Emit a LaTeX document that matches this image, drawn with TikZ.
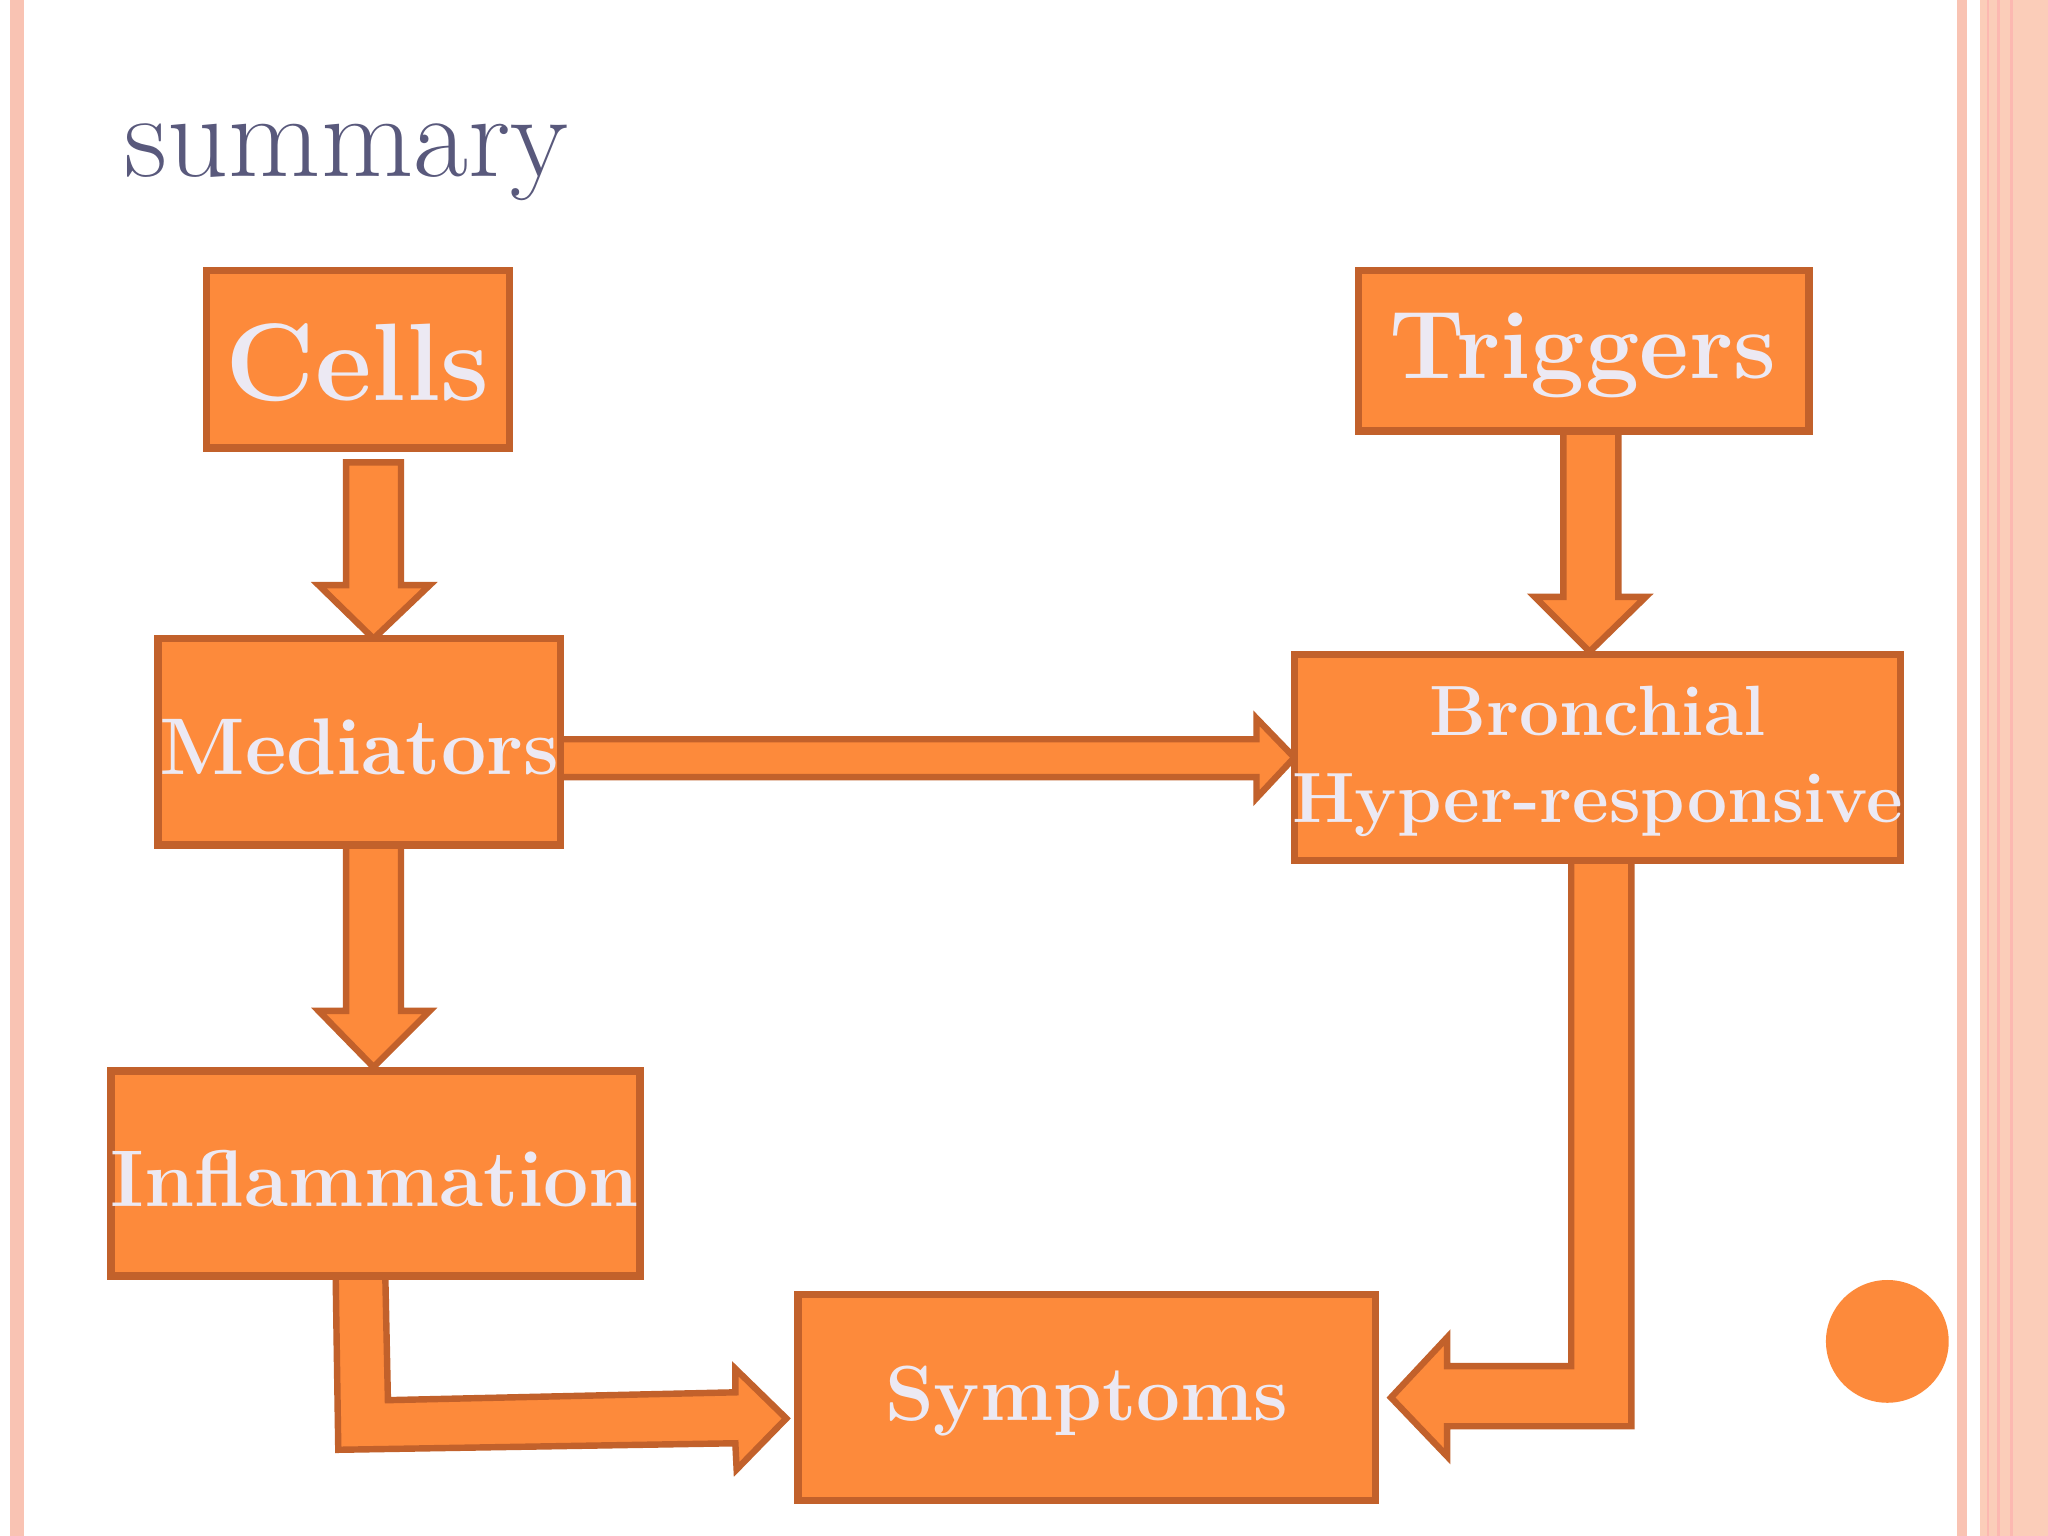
\documentclass[tikz,border=0pt]{standalone}
\begin{document}
\begin{tikzpicture}[x=0.01cm,y=-0.01cm,
 box/.style={draw=boxline,line width=1.6pt,fill=boxfill},
 lab/.style={text=labcol,font=\bfseries},
 blk/.style={draw=boxline,line width=1.4pt,fill=boxfill,line join=miter}]
\definecolor{boxfill}{HTML}{FD8A3B}
\definecolor{boxline}{HTML}{C2612B}
\definecolor{labcol}{HTML}{ECE9F3}
\definecolor{pinkl}{HTML}{F9C3B3}
\definecolor{peach}{HTML}{FBCDB9}
\useasboundingbox (0,0) rectangle (1568,1176);
\fill[white] (0,0) rectangle (1568,1176);
\fill[pinkl] (8,0) rectangle (18,1176);
\fill[pinkl] (1498,0) rectangle (1506,1176);
\fill[peach] (1516,0) rectangle (1568,1176);
\foreach \x in {1522,1530,1540}{\draw[pinkl!70!red!60,line width=0.6pt] (\x,0)--(\x,1176);}
\node[anchor=base west,text=black!55!blue!30!gray,font=\fontsize{26}{30}\selectfont,inner sep=0] (title) at (95,135) {summary};
% arrows
\draw[blk] (265,354)--(307,354)--(307,448)--(329,448)--(286,489)--(244,448)--(265,448)--cycle;
\draw[blk] (1197,330)--(1239,330)--(1239,457)--(1260,457)--(1217,499)--(1175,457)--(1197,457)--cycle;
\draw[blk] (265,647)--(307,647)--(307,774)--(329,774)--(286,817)--(244,774)--(265,774)--cycle;
\draw[blk] (429,566)--(962,566)--(962,550)--(991,580)--(962,611)--(962,595)--(429,595)--cycle;
\draw[blk] (257,977)--(295,977)--(297,1072)--(563,1066)--(563,1048)--(602,1086)--(564,1125)--(563,1105)--(259,1110)--cycle;
\draw[blk] (1203,659)--(1249,659)--(1249,1092)--(1108,1092)--(1108,1115)--(1065,1070)--(1108,1024)--(1108,1046)--(1203,1046)--cycle;
% boxes
\draw[box] (158,207) rectangle (390,343);
\node[lab,font=\bfseries\fontsize{24}{28}\selectfont] (cells) at (274,278) {Cells};
\draw[box] (1040,207) rectangle (1385,330);
\node[lab,font=\bfseries\fontsize{21}{25}\selectfont] (trig) at (1212,272) {Triggers};
\draw[box] (121,489) rectangle (429,647);
\node[lab,font=\bfseries\fontsize{17.5}{21}\selectfont] (med) at (275,572) {Mediators};
\draw[box] (991,501) rectangle (1455,659);
\node[lab,font=\bfseries\fontsize{15.5}{19}\selectfont,align=center] (bron) at (1223,583) {Bronchial\\Hyper-responsive};
\draw[box] (85,820) rectangle (490,977);
\node[lab,font=\bfseries\fontsize{17.5}{21}\selectfont] (inf) at (287,902) {Inflammation};
\draw[box] (611,991) rectangle (1053,1149);
\node[lab,font=\bfseries\fontsize{17}{21}\selectfont] (sym) at (832,1073) {Symptoms};
\fill[boxfill] (1445,1027) circle (47);
\end{tikzpicture}
\end{document}
